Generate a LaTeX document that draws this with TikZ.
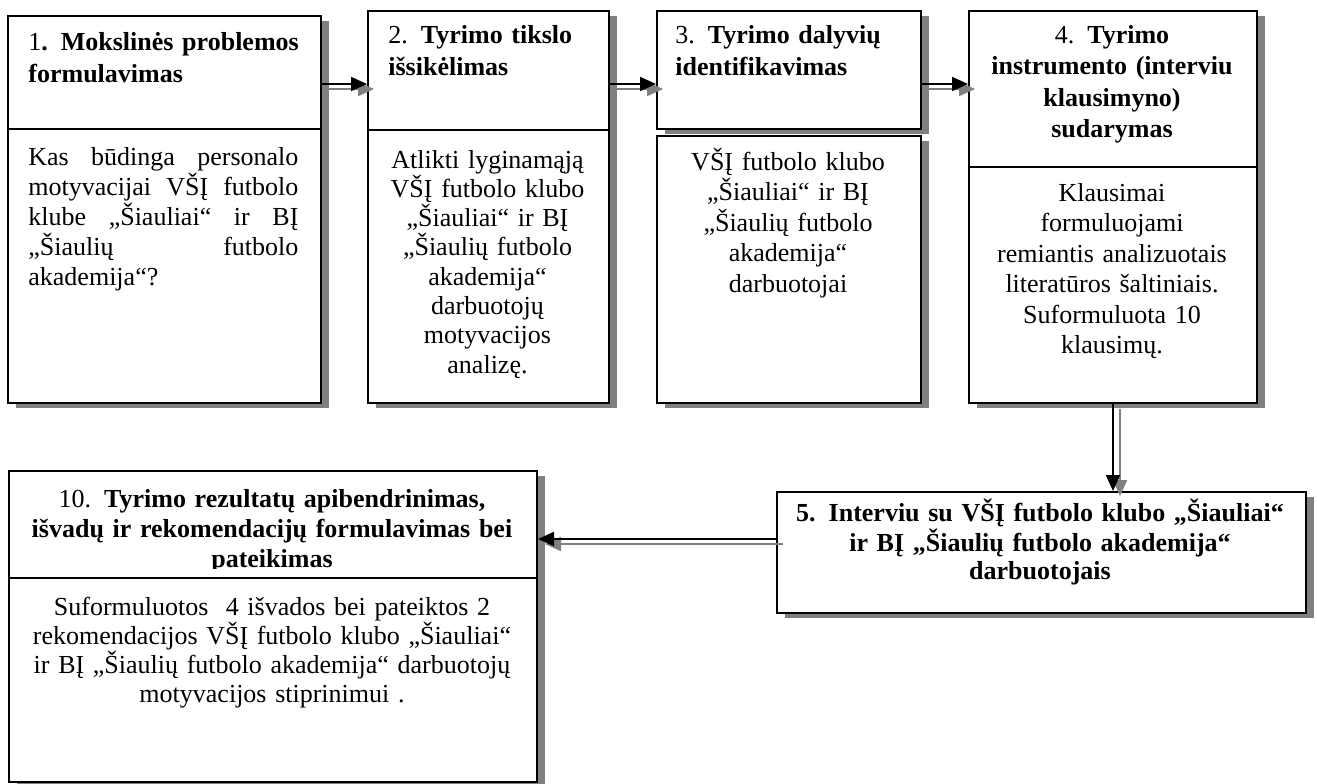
\documentclass[tikz,border=0pt]{standalone}
\usepackage{fontspec}
\setmainfont{Liberation Serif}
\usetikzlibrary{shadows,arrows.meta}
\definecolor{shd}{HTML}{808080}
\tikzset{
  box/.style={draw=black, line width=1pt, fill=white, inner sep=0pt, anchor=north west,
    drop shadow={shadow xshift=4pt, shadow yshift=-2.5pt, fill=shd, opacity=1}},
  ttl/.style={inner sep=0pt, font=\fontsize{13}{16}\selectfont},
  bodytxt/.style={inner sep=0pt, font=\fontsize{13}{15}\selectfont},
  arr/.style={line width=1pt, -{Triangle[length=8pt,width=7pt]}},
  arrsh/.style={arr, draw=shd, fill=shd, transform canvas={xshift=3.5pt,yshift=-2.5pt}},
  divline/.style={line width=1pt}
}
\tolerance=10000
\hbadness=10000
\hyphenpenalty=10000
\begin{document}
\begin{tikzpicture}[x=0.5pt,y=-0.5pt]
\fill[white] (0,0) rectangle (1317,783);
\useasboundingbox (0,0) rectangle (1317,783);

% boxes
\node[box, minimum width=156.5pt, minimum height=193.5pt] (b1) at (7,15) {};
\node[box, minimum width=120.5pt, minimum height=196pt] (b2) at (367,10) {};
\node[box, minimum width=132pt, minimum height=59pt] (b3a) at (656,10) {};
\node[box, minimum width=132pt, minimum height=133.5pt] (b3b) at (656,135) {};
\node[box, minimum width=144pt, minimum height=196pt] (b4) at (968,10) {};
\node[box, minimum width=264.5pt, minimum height=60.5pt] (b5) at (776,491) {};
\node[box, minimum width=264pt, minimum height=155.5pt] (b10) at (8,470) {};

% dividers
\coordinate (d1) at (0,129);
\coordinate (d2) at (0,130);
\coordinate (d4) at (0,167);
\coordinate (d10) at (0,578);
\draw[divline] (b1.west |- d1) -- (b1.east |- d1);
\draw[divline] (b2.west |- d2) -- (b2.east |- d2);
\draw[divline] (b4.west |- d4) -- (b4.east |- d4);
\draw[divline] (b10.west |- d10) -- (b10.east |- d10);

% texts
\node[ttl, anchor=base west, text width=150pt, align=left] (t1) at (28,50)
  {1\textbf{. Mokslinės problemos}\\\textbf{formulavimas}};
\node[bodytxt, anchor=base west, text width=135pt, align=justify] (t1b) at (28,165)
  {Kas būdinga personalo\linebreak motyvacijai VŠĮ futbolo\linebreak klube „Šiauliai“ ir BĮ\linebreak „Šiaulių futbolo\linebreak akademija“?};

\node[ttl, anchor=base west, text width=115pt, align=left] (t2) at (388,43)
  {2. \textbf{Tyrimo tikslo}\\\textbf{išsikėlimas}};
\node[bodytxt, font=\fontsize{13}{14.65}\selectfont, anchor=base, text width=118pt, align=center] (t2b) at (487.5,168)
  {Atlikti lyginamąją\\VŠĮ futbolo klubo\\„Šiauliai“ ir BĮ\\„Šiaulių futbolo\\akademija“\\darbuotojų\\motyvacijos\\analizę.};

\node[ttl, anchor=base west, text width=120pt, align=left] (t3) at (675,43)
  {3. \textbf{Tyrimo dalyvių}\\\textbf{identifikavimas}};
\node[bodytxt, font=\fontsize{13}{15.25}\selectfont, anchor=base, text width=128pt, align=center] (t3b) at (788,170)
  {VŠĮ futbolo klubo\\„Šiauliai“ ir BĮ\\„Šiaulių futbolo\\akademija“\\darbuotojai};

\node[ttl, font=\fontsize{13}{15.75}\selectfont, anchor=base, text width=140pt, align=center] (t4) at (1112,43)
  {4. \textbf{Tyrimo}\\\textbf{instrumento (interviu}\\\textbf{klausimyno)}\\\textbf{sudarymas}};
\node[bodytxt, font=\fontsize{13}{15.25}\selectfont, anchor=base, text width=140pt, align=center] (t4b) at (1112,201)
  {Klausimai\\formuluojami\\remiantis analizuotais\\literatūros šaltiniais.\\Suformuluota 10\\klausimų.};

\node[ttl, font=\fontsize{13}{14}\selectfont\bfseries, anchor=base, text width=262pt, align=center] (t5) at (1040,521)
  {5. Interviu su VŠĮ futbolo klubo „Šiauliai“\\ir BĮ „Šiaulių futbolo akademija“\\darbuotojais};

\begin{scope}
  \clip (8,470) rectangle (536,568);
  \node[ttl, font=\fontsize{13}{15}\selectfont, anchor=base, text width=262pt, align=center] (t10) at (272,507)
    {10. \textbf{Tyrimo rezultatų apibendrinimas,}\\\textbf{išvadų ir rekomendacijų formulavimas bei}\\\textbf{pateikimas}};
\end{scope}
\node[bodytxt, font=\fontsize{13}{14.5}\selectfont, anchor=base, text width=262pt, align=center] (t10b) at (272,615)
  {Suformuluotos\ \ 4 išvados bei pateiktos 2\\rekomendacijos VŠĮ futbolo klubo „Šiauliai“\\ir BĮ „Šiaulių futbolo akademija“ darbuotojų\\motyvacijos stiprinimui .};

% connectors
\coordinate (r1) at (0,84);
\coordinate (r2) at (0,539);
\draw[arrsh] (b1.east |- r1) -- (b2.west |- r1);
\draw[arr] (b1.east |- r1) -- (b2.west |- r1);
\draw[arrsh] (b2.east |- r1) -- (b3a.west |- r1);
\draw[arr] (b2.east |- r1) -- (b3a.west |- r1);
\draw[arrsh] (b3a.east |- r1) -- (b4.west |- r1);
\draw[arr] (b3a.east |- r1) -- (b4.west |- r1);
\draw[arrsh] (b4.south) -- (b4.south |- b5.north);
\draw[arr] (b4.south) -- (b4.south |- b5.north);
\draw[arrsh] (b5.west |- r2) -- (b10.east |- r2);
\draw[arr] (b5.west |- r2) -- (b10.east |- r2);
\end{tikzpicture}
\end{document}
